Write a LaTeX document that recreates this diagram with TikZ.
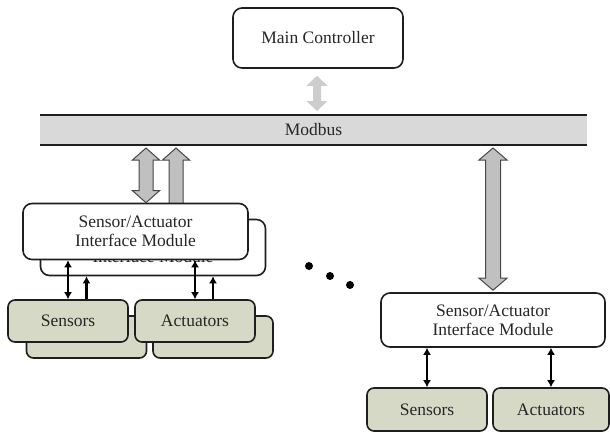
\documentclass[tikz,border=0pt]{standalone}
\usepackage{fontspec}
\setmainfont{Liberation Serif}
\usetikzlibrary{arrows.meta,calc}

\definecolor{busfill}{RGB}{217,217,217}
\definecolor{fatfill}{RGB}{192,192,192}
\definecolor{fatedge}{RGB}{70,70,70}
\definecolor{softarrow}{RGB}{205,205,205}
\definecolor{devfill}{RGB}{215,217,199}
\definecolor{edge}{RGB}{30,30,30}

% Vertical block arrow with a head at both ends.
% #1 style, #2 x (px), #3 upper anchor, #4 lower anchor,
% #5 half shaft, #6 half head, #7 head length, #8 top gap, #9 bottom gap
\newcommand\blockarrow[9]{%
  \path[#1] let \p1=(#3), \p2=(#4) in
    (#2pt,\y1-#8pt) -- (#2pt+#6pt,\y1-#8pt-#7pt) -- (#2pt+#5pt,\y1-#8pt-#7pt)
    -- (#2pt+#5pt,\y2+#9pt+#7pt) -- (#2pt+#6pt,\y2+#9pt+#7pt) -- (#2pt,\y2+#9pt)
    -- (#2pt-#6pt,\y2+#9pt+#7pt) -- (#2pt-#5pt,\y2+#9pt+#7pt)
    -- (#2pt-#5pt,\y1-#8pt-#7pt) -- (#2pt-#6pt,\y1-#8pt-#7pt) -- cycle;}

\begin{document}
\begin{tikzpicture}[x=1pt,y=-1pt,
  txt/.style={font=\fontsize{17.5}{19}\selectfont, align=center, text=black!85},
  ctrlbox/.style={txt, draw=edge, line width=1.6pt, rounded corners=9pt, fill=white,
    minimum width=170pt, minimum height=60pt, inner sep=0pt},
  modbox/.style={txt, draw=edge, line width=1.6pt, rounded corners=9pt, fill=white,
    minimum width=225pt, minimum height=56pt, inner sep=0pt},
  devbox/.style={txt, draw=edge, line width=1.6pt, rounded corners=7pt, fill=devfill,
    minimum width=120pt, minimum height=42pt, inner sep=0pt},
  fat/.style={draw=fatedge, line width=1pt, fill=fatfill, line join=miter},
  soft/.style={fill=softarrow},
  thin/.style={draw=black, line width=2.5pt, {Latex[length=7pt,width=8pt]}-{Latex[length=7pt,width=8pt]}},
  thinup/.style={draw=black, line width=2.5pt, -{Latex[length=7pt,width=8pt]}},
  dot/.style={circle, fill=black, inner sep=0pt, minimum size=8pt}]

\useasboundingbox (0,0) rectangle (610,432);

% controller and bus
\node[ctrlbox] (main) at (318,38) {Main Controller};
\fill[busfill] (40,115) rectangle (587,145);
\draw[edge, line width=2pt] (40,115) -- (587,115);
\draw[edge, line width=2pt] (40,145) -- (587,145);
\node[txt] (bus) at (313.5,130) {Modbus};
\coordinate (busT) at (313.5,115);
\coordinate (busB) at (313.5,145);

\blockarrow{soft}{317}{main.south}{busT}{4}{10.5}{10}{7}{4}

% left group: stacked back layer first
\node[modbox] (modB) at (153,247.5) {Sensor/Actuator\\Interface Module};
\blockarrow{fat}{176}{busB}{modB.north}{7}{13.5}{12}{3}{0}
\node[devbox] (sensB) at (86.5,337) {};
\node[devbox] (actB) at (213,337) {};
\draw[thinup] (sensB.north) -- (sensB.north |- modB.south);
\draw[thinup] (actB.north) -- (actB.north |- modB.south);

% left group: front layer
\node[modbox] (modF) at (135.5,231.5) {Sensor/Actuator\\Interface Module};
\blockarrow{fat}{146}{busB}{modF.north}{7}{13.5}{12}{3}{0}
\node[devbox] (sensF) at (68,321) {Sensors};
\node[devbox] (actF) at (195,321) {Actuators};
\draw[thin] (sensF.north) -- (sensF.north |- modF.south);
\draw[thin] (actF.north) -- (actF.north |- modF.south);

% ellipsis
\node[dot] (d1) at (309,266) {};
\node[dot] (d2) at (330,276) {};
\node[dot] (d3) at (350,285) {};

% right group
\node[modbox, minimum width=224pt, minimum height=54pt] (modR) at (493,320) {Sensor/Actuator\\Interface Module};
\blockarrow{fat}{493}{busB}{modR.north}{7.5}{14}{12}{3}{2}
\node[devbox, minimum height=43pt] (sensR) at (427,409.5) {Sensors};
\node[devbox, minimum width=116pt, minimum height=43pt] (actR) at (551,409.5) {Actuators};
\draw[thin] (sensR.north) -- (sensR.north |- modR.south);
\draw[thin] (actR.north) -- (actR.north |- modR.south);

\end{tikzpicture}
\end{document}
